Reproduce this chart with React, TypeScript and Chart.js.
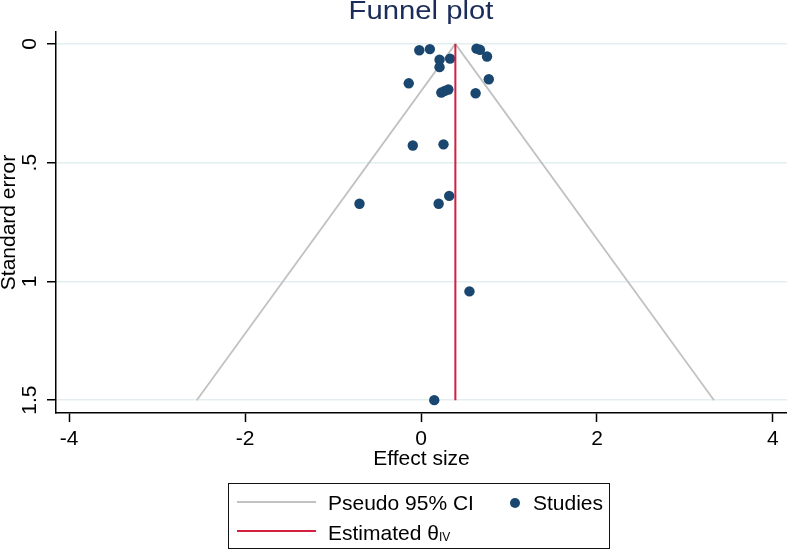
import React, { useEffect, useRef } from "react";
import { Chart, registerables } from "chart.js";

Chart.register(...registerables);

// Studies: effect size (x) and standard error (y)
const studyEffect = [
  -0.02, 0.10, 0.21, 0.33, 0.21, 0.63, 0.67, 0.75, 0.77, -0.14, 0.23,
  0.27, 0.31, 0.62, -0.094, 0.255, 0.32, 0.20, -0.70, 0.55, 0.15,
];
const studySE = [
  0.027, 0.022, 0.067, 0.062, 0.098, 0.020, 0.025, 0.053, 0.149, 0.166, 0.205,
  0.198, 0.192, 0.208, 0.428, 0.423, 0.640, 0.673, 0.673, 1.042, 1.50,
];

// Pseudo 95% CI funnel
const ciEffect = [-2.55, 0.39, 3.33];
const ciSE = [1.5, 0, 1.5];

// Estimated theta (IV)
const thetaEffect = [0.39, 0.39];
const thetaSE = [0, 1.5];

const xTickValues = [-4, -2, 0, 2, 4];
const xTickLabels = ["-4", "-2", "0", "2", "4"];
const yTickValues = [0, 0.5, 1, 1.5];
const yTickLabels = ["0", ".5", "1", "1.5"];

const FONT = "'Liberation Sans', Arial, Helvetica, sans-serif";
const NAVY = "#1a476f";
const RED = "#d41f3f";
const GRAY = "#c2c2c2";

const zip = (xs: number[], ys: number[]) => xs.map((x, i) => ({ x, y: ys[i] }));

export default function App() {
  const ref = useRef<HTMLCanvasElement | null>(null);

  useEffect(() => {
    if (!ref.current) return;
    Chart.defaults.font.family = FONT;
    const chart = new Chart(ref.current, {
      type: "scatter",
      data: {
        datasets: [
          {
            label: "Estimated θIV",
            data: zip(thetaEffect, thetaSE),
            showLine: true,
            borderColor: RED,
            borderWidth: 2,
            pointRadius: 0,
            order: 0,
          },
          {
            label: "Studies",
            data: zip(studyEffect, studySE),
            backgroundColor: NAVY,
            borderWidth: 0,
            pointRadius: 5.2,
            order: 1,
          },
          {
            label: "Pseudo 95% CI",
            data: zip(ciEffect, ciSE),
            showLine: true,
            borderColor: GRAY,
            borderWidth: 1.8,
            pointRadius: 0,
            order: 2,
          },
        ],
      },
      options: {
        responsive: false,
        animation: false,
        layout: { autoPadding: false, padding: { top: 32, left: 0, right: 0, bottom: 0 } },
        plugins: {
          legend: { display: false },
          tooltip: { enabled: false },
          title: { display: false },
        },
        scales: {
          x: {
            type: "linear",
            min: -4.15,
            max: 4.16,
            afterBuildTicks: (s: any) => {
              s.ticks = xTickValues.map((v) => ({ value: v }));
            },
            afterFit: (s: any) => {
              s.height = 138;
              s.paddingLeft = 0;
              s.paddingRight = 0;
            },
            ticks: {
              autoSkip: false,
              maxRotation: 0,
              padding: 5,
              color: "#000",
              font: { family: FONT, size: 21 },
              callback: (v: any) => {
                const i = xTickValues.indexOf(Number(v));
                return i >= 0 ? xTickLabels[i] : "";
              },
            },
            grid: {
              drawOnChartArea: false,
              drawTicks: true,
              tickLength: 9,
              tickColor: "#000",
              tickWidth: 1.5,
            },
            border: { color: "#000", width: 1.5 },
            title: {
              display: true,
              text: "Effect size",
              color: "#000",
              font: { family: FONT, size: 21 },
              padding: { top: 0, bottom: 79 },
            },
          },
          y: {
            type: "linear",
            reverse: true,
            min: -0.05,
            max: 1.554,
            afterBuildTicks: (s: any) => {
              s.ticks = yTickValues.map((v) => ({ value: v }));
            },
            afterFit: (s: any) => {
              s.width = 56;
              s.paddingTop = 0;
              s.paddingBottom = 0;
            },
            ticks: {
              autoSkip: false,
              minRotation: 90,
              maxRotation: 90,
              crossAlign: "center",
              padding: 2.5,
              color: "#000",
              font: { family: FONT, size: 21 },
              callback: (v: any) => {
                const i = yTickValues.indexOf(Number(v));
                return i >= 0 ? yTickLabels[i] : "";
              },
            },
            grid: {
              color: "#e3eef0",
              lineWidth: 1.5,
              drawTicks: true,
              tickLength: 9,
              tickColor: "#000",
              tickWidth: 1.5,
            },
            border: { color: "#000", width: 1.5 },
            title: {
              display: true,
              text: "Standard error",
              color: "#000",
              font: { family: FONT, size: 21, lineHeight: 0.83 },
              padding: { top: 0, bottom: 0 },
            },
          },
        },
      },
    } as any);
    return () => chart.destroy();
  }, []);

  const textStyle: React.CSSProperties = {
    position: "absolute",
    fontFamily: FONT,
    fontSize: 21,
    lineHeight: "21px",
    color: "#000",
    whiteSpace: "nowrap",
  };

  return (
    <div
      style={{
        position: "absolute",
        left: 0,
        top: 0,
        width: 787,
        height: 551,
        background: "#fff",
        overflow: "hidden",
      }}
    >
      <canvas ref={ref} width={787} height={551} style={{ display: "block", width: 787, height: 551 }} />
      <div
        style={{
          position: "absolute",
          left: 271,
          top: -2,
          width: 300,
          textAlign: "center",
          fontFamily: FONT,
          fontSize: 25,
          lineHeight: "25px",
          color: "#1c2c5a",
          whiteSpace: "nowrap",
          transform: "scaleX(1.17)",
          transformOrigin: "50% 50%",
        }}
      >
        Funnel plot
      </div>
      <div
        style={{
          position: "absolute",
          left: 228,
          top: 483,
          width: 382,
          height: 66,
          boxSizing: "border-box",
          border: "1.5px solid #111",
        }}
      />
      <div style={{ position: "absolute", left: 237, top: 501, width: 79, height: 2, background: GRAY }} />
      <div style={{ ...textStyle, left: 328, top: 492 }}>Pseudo 95% CI</div>
      <div
        style={{
          position: "absolute",
          left: 510,
          top: 498,
          width: 10,
          height: 10,
          borderRadius: "50%",
          background: NAVY,
        }}
      />
      <div style={{ ...textStyle, left: 533, top: 492 }}>Studies</div>
      <div style={{ position: "absolute", left: 237, top: 530, width: 79, height: 2, background: RED }} />
      <div style={{ ...textStyle, left: 328, top: 522 }}>
        Estimated θ
        <span style={{ fontSize: 12, position: "relative", top: 1 }}>IV</span>
      </div>
    </div>
  );
}
